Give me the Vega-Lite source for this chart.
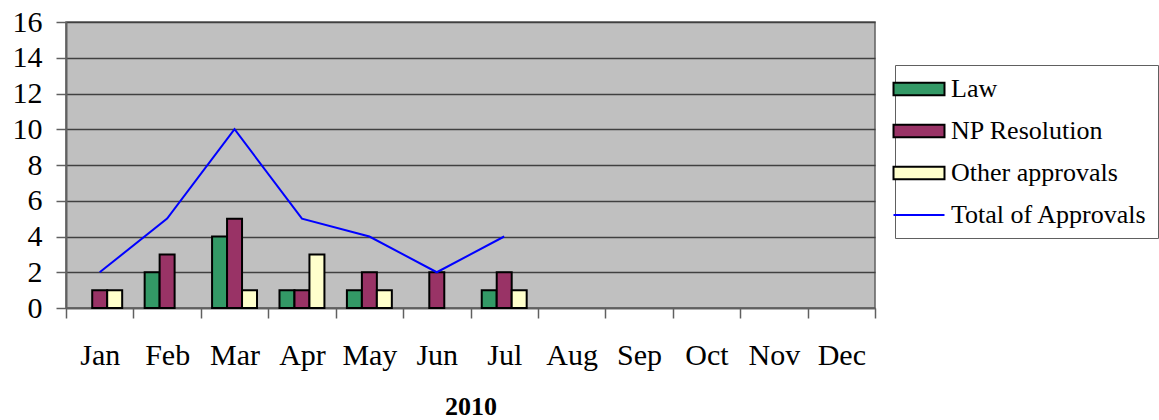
{
  "$schema": "https://vega.github.io/schema/vega-lite/v6.json",
  "autosize": "none",
  "width": 809,
  "height": 286,
  "padding": {"left": 66, "top": 22, "right": 284, "bottom": 112},
  "background": "white",
  "config": {
    "font": "Liberation Serif",
    "view": {"fill": "#C0C0C0", "stroke": "#606060", "strokeWidth": 1.5}
  },
  "datasets": {
    "bars": [
      {"month": "Jan", "series": "NP Resolution", "value": 1},
      {"month": "Jan", "series": "Other approvals", "value": 1},
      {"month": "Feb", "series": "Law", "value": 2},
      {"month": "Feb", "series": "NP Resolution", "value": 3},
      {"month": "Mar", "series": "Law", "value": 4},
      {"month": "Mar", "series": "NP Resolution", "value": 5},
      {"month": "Mar", "series": "Other approvals", "value": 1},
      {"month": "Apr", "series": "Law", "value": 1},
      {"month": "Apr", "series": "NP Resolution", "value": 1},
      {"month": "Apr", "series": "Other approvals", "value": 3},
      {"month": "May", "series": "Law", "value": 1},
      {"month": "May", "series": "NP Resolution", "value": 2},
      {"month": "May", "series": "Other approvals", "value": 1},
      {"month": "Jun", "series": "NP Resolution", "value": 2},
      {"month": "Jul", "series": "Law", "value": 1},
      {"month": "Jul", "series": "NP Resolution", "value": 2},
      {"month": "Jul", "series": "Other approvals", "value": 1}
    ],
    "total": [
      {"month": "Jan", "value": 2},
      {"month": "Feb", "value": 5},
      {"month": "Mar", "value": 10},
      {"month": "Apr", "value": 5},
      {"month": "May", "value": 4},
      {"month": "Jun", "value": 2},
      {"month": "Jul", "value": 4}
    ]
  },
  "encoding": {
    "x": {
      "field": "month",
      "type": "nominal",
      "sort": null,
      "scale": {"domain": ["Jan","Feb","Mar","Apr","May","Jun","Jul","Aug","Sep","Oct","Nov","Dec"], "paddingInner": 0, "paddingOuter": 0},
      "axis": {
        "title": "2010",
        "titleFont": "Liberation Serif",
        "titleFontSize": 26,
        "titleFontWeight": "bold",
        "titleColor": "black",
        "titlePadding": 23,
        "labelAngle": 0,
        "labelFont": "Liberation Serif",
        "labelFontSize": 30,
        "labelColor": "black",
        "labelPadding": 22,
        "labelOverlap": false,
        "tickBand": "extent",
        "tickSize": 10,
        "tickColor": "#606060",
        "tickWidth": 1.5,
        "domainColor": "#606060",
        "domainWidth": 1.5,
        "grid": false
      }
    },
    "y": {
      "field": "value",
      "type": "quantitative",
      "scale": {"domain": [0, 16], "nice": false},
      "axis": {
        "title": null,
        "values": [0,2,4,6,8,10,12,14,16],
        "labelFont": "Liberation Serif",
        "labelFontSize": 30,
        "labelColor": "black",
        "labelPadding": 14,
        "labelOverlap": false,
        "labelFlush": false,
        "tickSize": 10,
        "tickColor": "#606060",
        "tickWidth": 1.5,
        "domainColor": "#606060",
        "domainWidth": 2,
        "grid": true,
        "gridColor": "#404040",
        "gridWidth": 1.5
      }
    }
  },
  "layer": [
    {
      "data": {"name": "bars"},
      "mark": {"type": "bar", "stroke": "black", "strokeWidth": 2},
      "encoding": {
        "xOffset": {"field": "series", "type": "nominal", "scale": {"domain": ["Law","NP Resolution","Other approvals"], "paddingInner": 0, "paddingOuter": 0.75}},
        "color": {
          "field": "series",
          "type": "nominal",
          "scale": {
            "domain": ["Law","NP Resolution","Other approvals","Total of Approvals"],
            "range": ["#339966","#993366","#FFFFCC","#0000FF"]
          },
          "legend": {
            "title": null,
            "orient": "none",
            "legendX": 829,
            "legendY": 43,
            "direction": "vertical",
            "fillColor": "white",
            "strokeColor": "#606060",
            "padding": 10,
            "labelFont": "Liberation Serif",
            "labelFontSize": 26,
            "labelColor": "black",
            "labelOffset": 18,
            "labelLimit": 300,
            "symbolSize": 650,
            "symbolType": "M-2,-0.5H2V0.5H-2Z",
            "symbolStrokeColor": "black",
            "symbolStrokeWidth": 2,
            "symbolOpacity": 1,
            "rowPadding": 15,
            "encode": {
              "symbols": {
                "update": {
                  "shape": {"signal": "datum.value === 'Total of Approvals' ? 'M-2,0H2' : 'M-2,-0.5H2V0.5H-2Z'"},
                  "stroke": {"signal": "datum.value === 'Total of Approvals' ? '#0000FF' : '#000000'"},
                  "strokeWidth": {"value": 2}
                }
              }
            }
          }
        }
      }
    },
    {
      "data": {"name": "total"},
      "mark": {"type": "line", "strokeWidth": 2, "color": "#0000FF"},
      "encoding": {}
    }
  ]
}
